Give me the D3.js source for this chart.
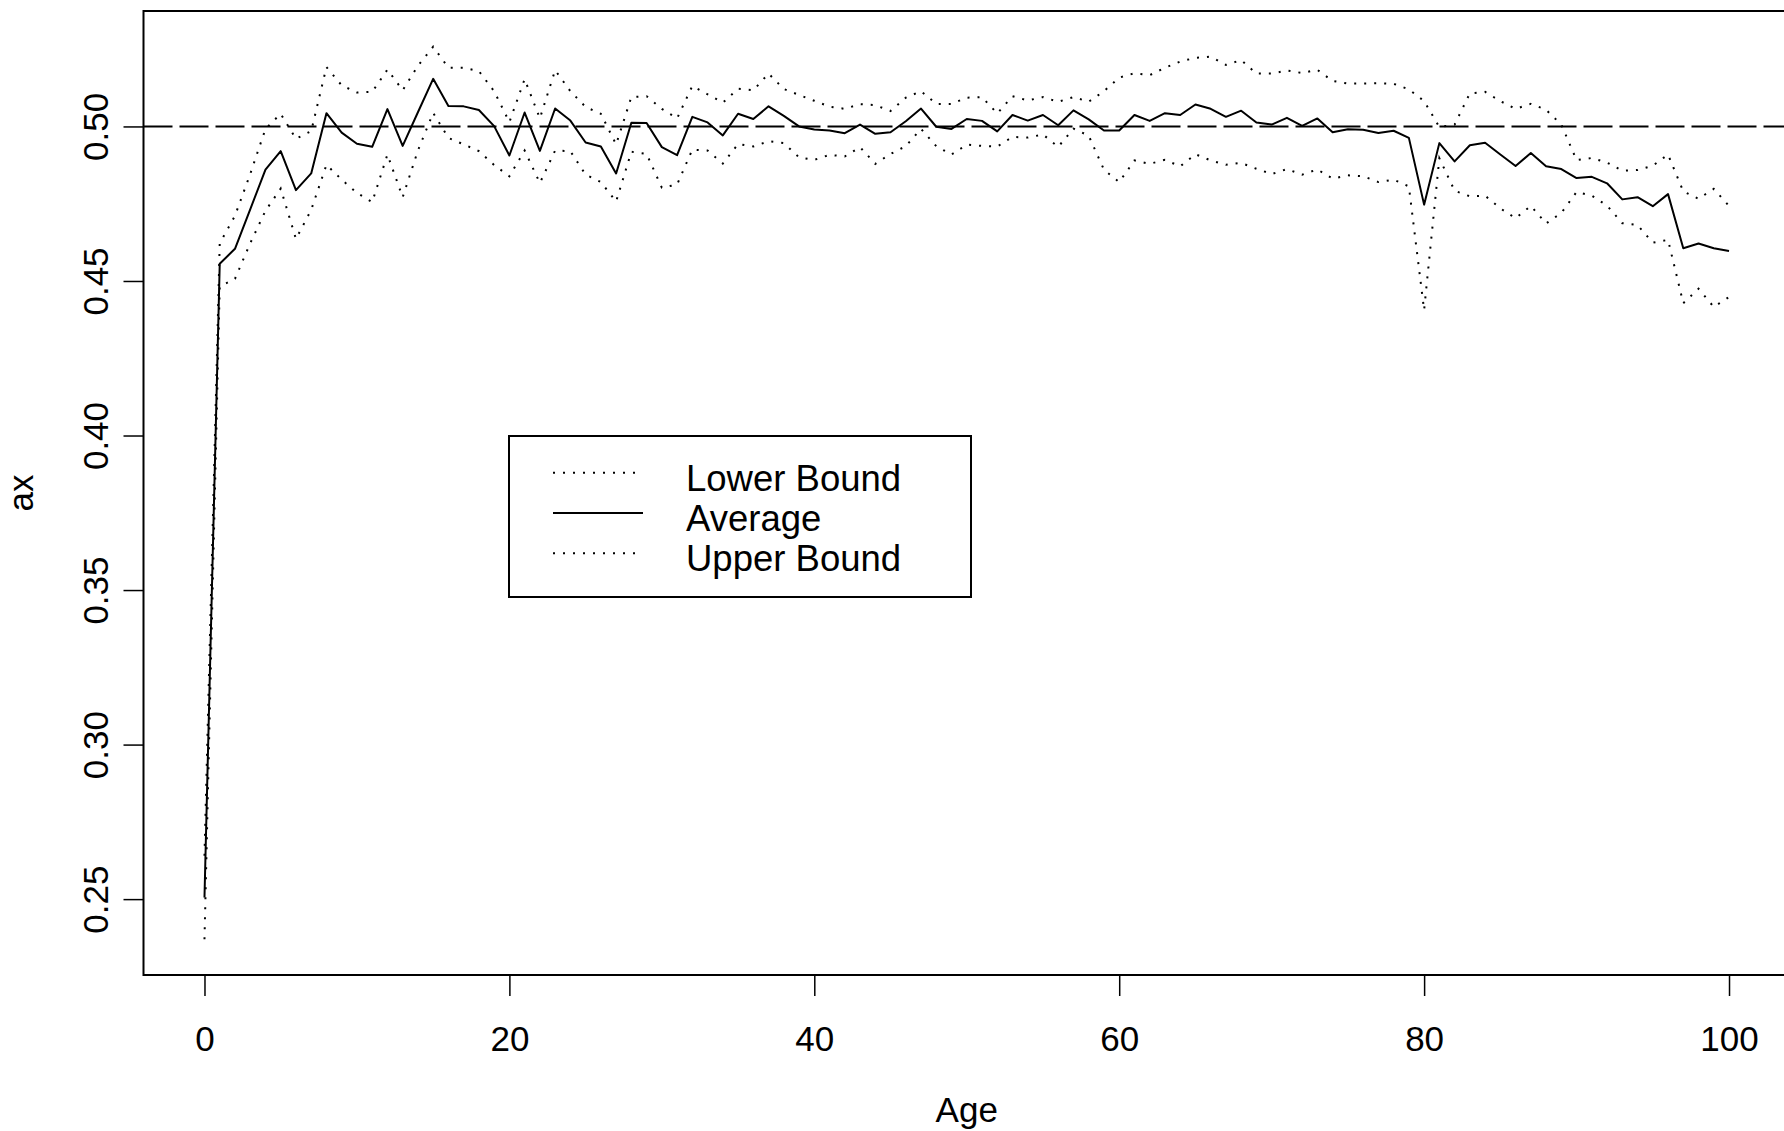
<!DOCTYPE html>
<html>
<head>
<meta charset="utf-8">
<script src="https://cdn.jsdelivr.net/npm/d3@7"></script>
<style>
  html, body { margin: 0; padding: 0; background: #fff; }
  svg { display: block; }
  text { font-family: "Liberation Sans", Arial, Helvetica, sans-serif; fill: #000; }
</style>
</head>
<body>
<svg id="chart" width="1784" height="1131"></svg>
<script>
const ages = d3.range(0, 101);
const averageValues = [
  0.2505, 0.4556, 0.4604, 0.4732, 0.4860, 0.4920, 0.4794, 0.4848, 0.5043, 0.4980,
  0.4944, 0.4934, 0.5056, 0.4937, 0.5046, 0.5154, 0.5066, 0.5065, 0.5053, 0.5001,
  0.4906, 0.5045, 0.4921, 0.5058, 0.5019, 0.4948, 0.4935, 0.4848, 0.5012, 0.5011,
  0.4933, 0.4907, 0.5031, 0.5013, 0.4971, 0.5041, 0.5024, 0.5065, 0.5034, 0.5000,
  0.4990, 0.4987, 0.4978, 0.5006, 0.4976, 0.4981, 0.5017, 0.5058, 0.4999, 0.4992,
  0.5024, 0.5018, 0.4984, 0.5037, 0.5019, 0.5037, 0.5004, 0.5052, 0.5023, 0.4987,
  0.4987, 0.5037, 0.5018, 0.5043, 0.5037, 0.5071, 0.5057, 0.5031, 0.5051, 0.5013,
  0.5006, 0.5028, 0.5002, 0.5026, 0.4981, 0.4991, 0.4989, 0.4979, 0.4986, 0.4963,
  0.4747, 0.4946, 0.4887, 0.4939, 0.4947, 0.4909, 0.4872, 0.4914, 0.4871, 0.4862,
  0.4833, 0.4837, 0.4816, 0.4764, 0.4771, 0.4742, 0.4781, 0.4606, 0.4621, 0.4606,
  0.4597
];
const upperValues = [
  0.2640, 0.4622, 0.4711, 0.4846, 0.4992, 0.5041, 0.4960, 0.4985, 0.5192, 0.5133,
  0.5110, 0.5112, 0.5184, 0.5117, 0.5196, 0.5258, 0.5190, 0.5190, 0.5179, 0.5114,
  0.5014, 0.5153, 0.5026, 0.5182, 0.5114, 0.5063, 0.5041, 0.4942, 0.5095, 0.5098,
  0.5057, 0.5026, 0.5131, 0.5104, 0.5077, 0.5122, 0.5117, 0.5171, 0.5121, 0.5102,
  0.5083, 0.5064, 0.5057, 0.5072, 0.5069, 0.5050, 0.5093, 0.5114, 0.5073, 0.5073,
  0.5093, 0.5095, 0.5042, 0.5098, 0.5084, 0.5095, 0.5080, 0.5095, 0.5080, 0.5114,
  0.5158, 0.5172, 0.5166, 0.5190, 0.5210, 0.5222, 0.5226, 0.5199, 0.5215, 0.5171,
  0.5171, 0.5181, 0.5173, 0.5183, 0.5147, 0.5139, 0.5139, 0.5140, 0.5138, 0.5120,
  0.5082, 0.4998, 0.5006, 0.5107, 0.5112, 0.5082, 0.5057, 0.5073, 0.5054, 0.5006,
  0.4891, 0.4898, 0.4883, 0.4857, 0.4859, 0.4873, 0.4909, 0.4790, 0.4766, 0.4798,
  0.4743
];
const lowerValues = [
  0.2370, 0.4482, 0.4507, 0.4622, 0.4727, 0.4799, 0.4636, 0.4730, 0.4876, 0.4828,
  0.4785, 0.4755, 0.4909, 0.4771, 0.4922, 0.5044, 0.4963, 0.4942, 0.4920, 0.4875,
  0.4839, 0.4922, 0.4817, 0.4922, 0.4920, 0.4844, 0.4820, 0.4757, 0.4918, 0.4911,
  0.4802, 0.4812, 0.4925, 0.4922, 0.4880, 0.4943, 0.4935, 0.4952, 0.4946, 0.4900,
  0.4892, 0.4908, 0.4903, 0.4933, 0.4879, 0.4911, 0.4936, 0.4992, 0.4936, 0.4909,
  0.4941, 0.4937, 0.4935, 0.4966, 0.4964, 0.4974, 0.4934, 0.4993, 0.4970, 0.4860,
  0.4820, 0.4890, 0.4879, 0.4892, 0.4871, 0.4910, 0.4890, 0.4876, 0.4882, 0.4863,
  0.4846, 0.4862, 0.4844, 0.4861, 0.4831, 0.4842, 0.4839, 0.4820, 0.4828, 0.4806,
  0.4406, 0.4897, 0.4792, 0.4774, 0.4776, 0.4735, 0.4703, 0.4743, 0.4686, 0.4720,
  0.4788, 0.4776, 0.4744, 0.4687, 0.4681, 0.4624, 0.4633, 0.4428, 0.4475, 0.4416,
  0.4448
];
const xTicks = [0, 20, 40, 60, 80, 100];
const yTicks = [0.25, 0.30, 0.35, 0.40, 0.45, 0.50];
const referenceLevel = 0.5;
const legendLabels = ["Lower Bound", "Average", "Upper Bound"];
const xLabel = "Age";
const yLabel = "ax";

const svg = d3.select("#chart");
const plot = { left: 143.5, right: 1790, top: 11, bottom: 975 };

// R-style 4% padding of data ranges
const allVals = lowerValues.concat(upperValues, averageValues);
const xMin = d3.min(ages), xMax = d3.max(ages);
const yMin = d3.min(allVals), yMax = d3.max(allVals);
const xPad = (xMax - xMin) * 0.04, yPad = (yMax - yMin) * 0.04;

const x = d3.scaleLinear().domain([xMin - xPad, xMax + xPad]).range([plot.left, plot.right]);
const y = d3.scaleLinear().domain([yMin - yPad, yMax + yPad]).range([plot.bottom, plot.top]);

const fontSize = 35;
const legendFontSize = 36.5;
const dotted = "2 8";

// Clip
svg.append("defs").append("clipPath").attr("id", "clip")
  .append("rect").attr("x", plot.left).attr("y", plot.top)
  .attr("width", plot.right - plot.left).attr("height", plot.bottom - plot.top);

const g = svg.append("g").attr("clip-path", "url(#clip)");

// Reference dashed line
g.append("line")
  .attr("x1", plot.left).attr("x2", plot.right)
  .attr("y1", y(referenceLevel)).attr("y2", y(referenceLevel))
  .attr("stroke", "#000").attr("stroke-width", 2)
  .attr("stroke-dasharray", "29 7");

const line = d3.line().x((d, i) => x(ages[i])).y(d => y(d));

g.append("path").datum(lowerValues).attr("d", line)
  .attr("fill", "none").attr("stroke", "#000").attr("stroke-width", 2)
  .attr("stroke-dasharray", dotted);
g.append("path").datum(upperValues).attr("d", line)
  .attr("fill", "none").attr("stroke", "#000").attr("stroke-width", 2)
  .attr("stroke-dasharray", dotted);
g.append("path").datum(averageValues).attr("d", line)
  .attr("fill", "none").attr("stroke", "#000").attr("stroke-width", 2)
  .attr("stroke-linejoin", "round");

// Box
svg.append("rect")
  .attr("x", plot.left).attr("y", plot.top)
  .attr("width", plot.right - plot.left).attr("height", plot.bottom - plot.top)
  .attr("fill", "none").attr("stroke", "#000").attr("stroke-width", 2);

// X axis
const xAxis = svg.append("g").attr("transform", `translate(0,${plot.bottom})`)
  .call(d3.axisBottom(x).tickValues(xTicks).tickSize(21).tickFormat(d3.format("d")));
xAxis.select(".domain").remove();
xAxis.selectAll(".tick line").attr("stroke", "#000").attr("stroke-width", 1.5);
xAxis.selectAll(".tick text")
  .attr("y", 76).attr("dy", null)
  .style("font-size", fontSize + "px")
  .style("font-family", '"Liberation Sans", Arial, sans-serif')
  .attr("fill", "#000");

// Y axis
const yAxis = svg.append("g").attr("transform", `translate(${plot.left},0)`)
  .call(d3.axisLeft(y).tickValues(yTicks).tickSize(20).tickFormat(d3.format(".2f")));
yAxis.select(".domain").remove();
yAxis.selectAll(".tick line").attr("stroke", "#000").attr("stroke-width", 1.5);
yAxis.selectAll(".tick text")
  .attr("x", null).attr("dy", null)
  .attr("text-anchor", "middle")
  .attr("transform", `translate(${108 - plot.left},0) rotate(-90)`)
  .style("font-size", fontSize + "px")
  .style("font-family", '"Liberation Sans", Arial, sans-serif')
  .attr("fill", "#000");

// Axis titles
svg.append("text")
  .attr("x", (plot.left + plot.right) / 2).attr("y", 1122)
  .attr("text-anchor", "middle").style("font-size", fontSize + "px")
  .text(xLabel);
svg.append("text")
  .attr("transform", `translate(33,${(plot.top + plot.bottom) / 2}) rotate(-90)`)
  .attr("text-anchor", "middle").style("font-size", fontSize + "px")
  .text(yLabel);

// Legend
const legend = svg.append("g");
legend.append("rect")
  .attr("x", 509).attr("y", 436).attr("width", 462).attr("height", 161)
  .attr("fill", "#fff").attr("stroke", "#000").attr("stroke-width", 2);
const legendStyles = [dotted, null, dotted];
legendLabels.forEach((lab, i) => {
  const ly = 472.7 + i * 40.3;
  legend.append("line")
    .attr("x1", 553).attr("x2", 643).attr("y1", ly).attr("y2", ly)
    .attr("stroke", "#000").attr("stroke-width", 2)
    .attr("stroke-dasharray", legendStyles[i]);
  legend.append("text")
    .attr("x", 686).attr("y", ly + 18)
    .style("font-size", legendFontSize + "px")
    .text(lab);
});
</script>
</body>
</html>
